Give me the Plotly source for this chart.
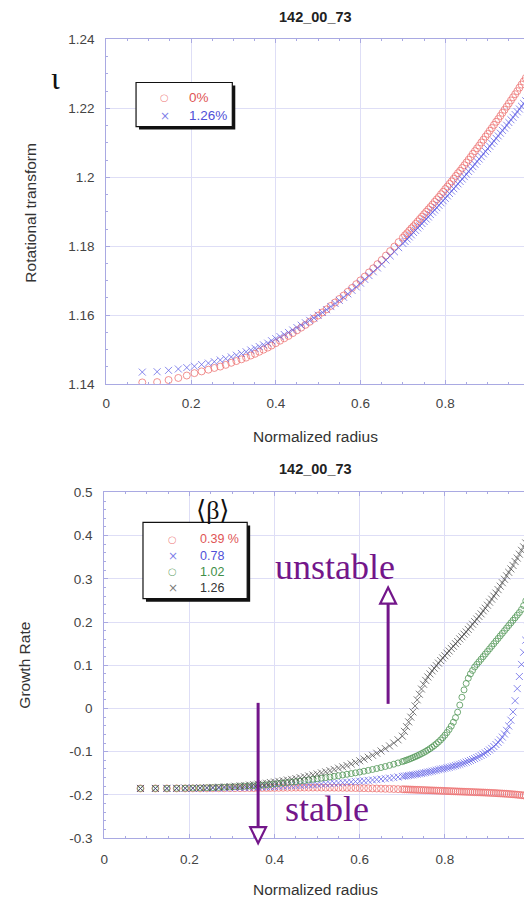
import plotly.graph_objects as go

# ---------------- data ----------------
RADIUS = [0.085, 0.120, 0.147, 0.170, 0.190, 0.208, 0.225, 0.241, 0.255, 0.269,
          0.282, 0.295, 0.307, 0.319, 0.330, 0.341, 0.351, 0.361, 0.371, 0.381,
          0.39, 0.40, 0.41, 0.42, 0.43, 0.44, 0.45, 0.46, 0.47, 0.48, 0.49,
          0.50, 0.51, 0.52, 0.53, 0.54, 0.55, 0.56, 0.57, 0.58, 0.59,
          0.60, 0.61, 0.62, 0.63, 0.64, 0.65, 0.66, 0.67, 0.68, 0.69,
          0.700, 0.705, 0.710, 0.715, 0.720, 0.725, 0.730, 0.735, 0.740, 0.745,
          0.750, 0.755, 0.760, 0.765, 0.770, 0.775, 0.780, 0.785, 0.790, 0.795,
          0.800, 0.805, 0.810, 0.815, 0.820, 0.825, 0.830, 0.835, 0.840, 0.845,
          0.850, 0.855, 0.860, 0.865, 0.870, 0.875, 0.880, 0.885, 0.890, 0.895,
          0.900, 0.905, 0.910, 0.915, 0.920, 0.925, 0.930, 0.935, 0.940, 0.945,
          0.950, 0.955, 0.960, 0.965, 0.970, 0.975, 0.980, 0.985, 0.990, 0.995,
          1.000]

# rotational transform, <beta> = 0 %
IOTA_0 = [1.1405, 1.1406, 1.1412, 1.1418, 1.1425, 1.1432, 1.1437, 1.1442, 1.1447, 1.1451,
          1.1456, 1.1462, 1.1467, 1.1472, 1.1477, 1.1483, 1.1488, 1.1494, 1.1500, 1.1506,
          1.1512, 1.1519, 1.1526, 1.1533, 1.1540, 1.1548, 1.1556, 1.1564, 1.1572, 1.1581, 1.1590,
          1.1599, 1.1608, 1.1617, 1.1627, 1.1637, 1.1647, 1.1657, 1.1668, 1.1679, 1.1690,
          1.1701, 1.1712, 1.1724, 1.1736, 1.1748, 1.1760, 1.1773, 1.1786, 1.1799, 1.1812,
          1.1825, 1.1832, 1.1838, 1.1845, 1.1852, 1.1858, 1.1865, 1.1872, 1.1879, 1.1886,
          1.1893, 1.1900, 1.1907, 1.1914, 1.1921, 1.1929, 1.1936, 1.1943, 1.1951, 1.1958,
          1.1966, 1.1973, 1.1981, 1.1988, 1.1996, 1.2004, 1.2012, 1.2019, 1.2027, 1.2035,
          1.2043, 1.2051, 1.2059, 1.2068, 1.2076, 1.2084, 1.2092, 1.2101, 1.2109, 1.2118,
          1.2126, 1.2135, 1.2143, 1.2152, 1.2161, 1.2169, 1.2178, 1.2187, 1.2196, 1.2205,
          1.2214, 1.2223, 1.2232, 1.2241, 1.2250, 1.2260, 1.2269, 1.2278, 1.2288, 1.2297,
          1.2307]

# rotational transform, <beta> = 1.26 %
IOTA_126 = [1.1435, 1.1436, 1.1440, 1.1444, 1.1448, 1.1452, 1.1457, 1.1461, 1.1465, 1.1470,
            1.1474, 1.1479, 1.1484, 1.1489, 1.1494, 1.1499, 1.1504, 1.1509, 1.1514, 1.1519,
            1.1526, 1.1532, 1.1538, 1.1544, 1.1550, 1.1557, 1.1564, 1.1571, 1.1578, 1.1585, 1.1592,
            1.1600, 1.1608, 1.1616, 1.1625, 1.1634, 1.1643, 1.1652, 1.1662, 1.1672, 1.1682,
            1.1693, 1.1704, 1.1715, 1.1726, 1.1737, 1.1748, 1.1760, 1.1772, 1.1784, 1.1796,
            1.1808, 1.1814, 1.1821, 1.1827, 1.1833, 1.1840, 1.1846, 1.1853, 1.1859, 1.1866,
            1.1872, 1.1879, 1.1885, 1.1892, 1.1899, 1.1905, 1.1912, 1.1919, 1.1926, 1.1932,
            1.1939, 1.1946, 1.1953, 1.1960, 1.1967, 1.1974, 1.1981, 1.1988, 1.1995, 1.2002,
            1.2009, 1.2017, 1.2024, 1.2031, 1.2038, 1.2046, 1.2053, 1.2060, 1.2068, 1.2075,
            1.2083, 1.2090, 1.2098, 1.2105, 1.2113, 1.2120, 1.2128, 1.2136, 1.2143, 1.2151,
            1.2159, 1.2167, 1.2174, 1.2182, 1.2190, 1.2198, 1.2206, 1.2214, 1.2222, 1.2230,
            1.2238]

# growth rate, <beta> = 0.39 %
GROWTH_039 = [-0.1850, -0.1850, -0.1850, -0.1849, -0.1849, -0.1848, -0.1848, -0.1847, -0.1846, -0.1846,
              -0.1845, -0.1844, -0.1843, -0.1843, -0.1842, -0.1841, -0.1841, -0.1840, -0.1839, -0.1839,
              -0.1838, -0.1837, -0.1836, -0.1835, -0.1834, -0.1833, -0.1832, -0.1832, -0.1831, -0.1831, -0.1831,
              -0.1831, -0.1831, -0.1832, -0.1832, -0.1833, -0.1834, -0.1835, -0.1836, -0.1838, -0.1840,
              -0.1842, -0.1844, -0.1846, -0.1848, -0.1851, -0.1854, -0.1857, -0.1860, -0.1863, -0.1866,
              -0.1869, -0.1871, -0.1872, -0.1874, -0.1876, -0.1878, -0.1880, -0.1882, -0.1884, -0.1886,
              -0.1888, -0.1890, -0.1892, -0.1894, -0.1896, -0.1898, -0.1900, -0.1902, -0.1904, -0.1906,
              -0.1908, -0.1910, -0.1912, -0.1914, -0.1916, -0.1918, -0.1920, -0.1922, -0.1924, -0.1926,
              -0.1928, -0.1930, -0.1932, -0.1934, -0.1936, -0.1938, -0.1940, -0.1942, -0.1944, -0.1946,
              -0.1949, -0.1951, -0.1954, -0.1956, -0.1959, -0.1962, -0.1965, -0.1968, -0.1971, -0.1974,
              -0.1978, -0.1982, -0.1986, -0.1990, -0.1995, -0.2000, -0.2005, -0.2011, -0.2018, -0.2026,
              -0.2035]

# growth rate, <beta> = 0.78 %
GROWTH_078 = [-0.1850, -0.1850, -0.1850, -0.1850, -0.1849, -0.1848, -0.1847, -0.1845, -0.1843, -0.1841,
              -0.1839, -0.1837, -0.1834, -0.1831, -0.1828, -0.1825, -0.1822, -0.1819, -0.1815, -0.1812,
              -0.1808, -0.1804, -0.1800, -0.1796, -0.1791, -0.1787, -0.1782, -0.1777, -0.1772, -0.1766, -0.1761,
              -0.1755, -0.1749, -0.1743, -0.1736, -0.1729, -0.1722, -0.1715, -0.1707, -0.1699, -0.1691,
              -0.1682, -0.1673, -0.1664, -0.1654, -0.1644, -0.1633, -0.1622, -0.1610, -0.1598, -0.1585,
              -0.1572, -0.1565, -0.1558, -0.1551, -0.1543, -0.1535, -0.1527, -0.1519, -0.1510, -0.1501,
              -0.1492, -0.1482, -0.1472, -0.1462, -0.1451, -0.1440, -0.1428, -0.1416, -0.1403, -0.1395,
              -0.1385, -0.1373, -0.1361, -0.1348, -0.1335, -0.1321, -0.1307, -0.1292, -0.1276, -0.1259,
              -0.1241, -0.1222, -0.1202, -0.1181, -0.1159, -0.1136, -0.1111, -0.1085, -0.1057, -0.1027,
              -0.0995, -0.0960, -0.0922, -0.0880, -0.0834, -0.0783, -0.0726, -0.0662, -0.0590, -0.0506,
              -0.0405, -0.0270, -0.0080, 0.0180, 0.0460, 0.0740, 0.1020, 0.1300, 0.1580, 0.1880,
              0.2200]

# growth rate, <beta> = 1.02 %
GROWTH_102 = [-0.1850, -0.1850, -0.1849, -0.1847, -0.1845, -0.1842, -0.1839, -0.1835, -0.1831, -0.1827,
              -0.1822, -0.1817, -0.1812, -0.1806, -0.1800, -0.1794, -0.1788, -0.1781, -0.1774, -0.1766,
              -0.1757, -0.1746, -0.1735, -0.1724, -0.1713, -0.1702, -0.1690, -0.1678, -0.1666, -0.1653, -0.1640,
              -0.1627, -0.1613, -0.1599, -0.1585, -0.1570, -0.1555, -0.1539, -0.1523, -0.1506, -0.1489,
              -0.1471, -0.1452, -0.1432, -0.1411, -0.1389, -0.1366, -0.1342, -0.1316, -0.1289, -0.1260,
              -0.1229, -0.1212, -0.1195, -0.1177, -0.1158, -0.1138, -0.1117, -0.1095, -0.1071, -0.1046,
              -0.1020, -0.0992, -0.0962, -0.0930, -0.0895, -0.0858, -0.0818, -0.0775, -0.0728, -0.0676,
              -0.0619, -0.0556, -0.0486, -0.0408, -0.0318, -0.0212, -0.0085, 0.0080, 0.0260, 0.0430,
              0.0580, 0.0700, 0.0800, 0.0880, 0.0960, 0.1020, 0.1080, 0.1140, 0.1200, 0.1260,
              0.1320, 0.1380, 0.1440, 0.1500, 0.1560, 0.1620, 0.1680, 0.1740, 0.1800, 0.1860,
              0.1920, 0.1980, 0.2040, 0.2100, 0.2160, 0.2220, 0.2290, 0.2380, 0.2490, 0.2630,
              0.2810]

# growth rate, <beta> = 1.26 %
GROWTH_126 = [-0.1850, -0.1850, -0.1848, -0.1846, -0.1843, -0.1840, -0.1836, -0.1831, -0.1826, -0.1820,
              -0.1813, -0.1806, -0.1798, -0.1790, -0.1781, -0.1771, -0.1761, -0.1750, -0.1739, -0.1728,
              -0.1712, -0.1700, -0.1685, -0.1670, -0.1655, -0.1640, -0.1620, -0.1600, -0.1580, -0.1560, -0.1538,
              -0.1515, -0.1490, -0.1465, -0.1438, -0.1410, -0.1380, -0.1350, -0.1318, -0.1284, -0.1248,
              -0.1210, -0.1170, -0.1128, -0.1083, -0.1035, -0.0983, -0.0927, -0.0866, -0.0799, -0.0725,
              -0.0640, -0.0530, -0.0420, -0.0310, -0.0200, -0.0080, 0.0060, 0.0200, 0.0330, 0.0450,
              0.0560, 0.0650, 0.0730, 0.0800, 0.0870, 0.0930, 0.0990, 0.1050, 0.1110, 0.1170,
              0.1220, 0.1280, 0.1330, 0.1390, 0.1440, 0.1500, 0.1550, 0.1610, 0.1660, 0.1720,
              0.1770, 0.1830, 0.1890, 0.1950, 0.2010, 0.2070, 0.2130, 0.2190, 0.2260, 0.2320,
              0.2390, 0.2460, 0.2530, 0.2600, 0.2670, 0.2750, 0.2830, 0.2910, 0.2990, 0.3070,
              0.3150, 0.3230, 0.3310, 0.3400, 0.3480, 0.3570, 0.3660, 0.3740, 0.3830, 0.3920,
              0.4010]

X_TICKS = [0, 0.2, 0.4, 0.6, 0.8, 1.0]
X_TICK_TEXT = ["0", "0.2", "0.4", "0.6", "0.8", "1"]
IOTA_TICKS = [1.14, 1.16, 1.18, 1.20, 1.22, 1.24]
IOTA_TICK_TEXT = ["1.14", "1.16", "1.18", "1.2", "1.22", "1.24"]
GR_TICKS = [-0.3, -0.2, -0.1, 0, 0.1, 0.2, 0.3, 0.4, 0.5]
GR_TICK_TEXT = ["-0.3", "-0.2", "-0.1", "0", "0.1", "0.2", "0.3", "0.4", "0.5"]

TOP_LEGEND = ["0%", "1.26%"]
BOTTOM_LEGEND = ["0.39 %", "0.78", "1.02", "1.26"]
TITLE = "142_00_73"

# ---------------- styling ----------------
VIEW_W, VIEW_H = 532, 898
OFF = 8                      # page margin around the plot div
W, H = VIEW_W - OFF, VIEW_H - OFF
YS, YO = 0.981, 7.8          # observed vertical placement of the page in the snapshot
SANS = "Liberation Sans, Arial, Helvetica, sans-serif"
SERIF = "Liberation Serif, Times New Roman, DejaVu Serif, serif"
FRAME = "#a9a9e2"
GRID = "#dedef6"
PURPLE = "#73168a"

C_RED = "rgba(236,110,110,0.75)"
C_BLUE = "rgba(95,95,228,0.75)"
C_GREEN = "rgba(80,150,85,0.8)"
C_GRAY = "rgba(70,70,70,0.7)"


def px(x):
    return (x - OFF) / W


def py(y):
    yc = (y - YO) / YS
    return 1 - (yc - OFF) / H


def marker(symbol, size, color):
    return dict(symbol=symbol, size=size, color=color, line=dict(width=1, color=color))


fig = go.Figure()

fig.add_trace(go.Scatter(x=RADIUS, y=IOTA_0, mode="markers", xaxis="x", yaxis="y",
                         marker=marker("circle-open", 7, C_RED), showlegend=False))
fig.add_trace(go.Scatter(x=RADIUS, y=IOTA_126, mode="markers", xaxis="x", yaxis="y",
                         marker=marker("x-thin-open", 7, C_BLUE), showlegend=False))

fig.add_trace(go.Scatter(x=RADIUS, y=GROWTH_039, mode="markers", xaxis="x2", yaxis="y2",
                         marker=marker("circle-open", 7, C_RED), showlegend=False))
fig.add_trace(go.Scatter(x=RADIUS, y=GROWTH_078, mode="markers", xaxis="x2", yaxis="y2",
                         marker=marker("x-thin-open", 7, C_BLUE), showlegend=False))
fig.add_trace(go.Scatter(x=RADIUS, y=GROWTH_102, mode="markers", xaxis="x2", yaxis="y2",
                         marker=marker("circle-open", 6, C_GREEN), showlegend=False))
fig.add_trace(go.Scatter(x=RADIUS, y=GROWTH_126, mode="markers", xaxis="x2", yaxis="y2",
                         marker=marker("x-thin-open", 7, C_GRAY), showlegend=False))

tickfont = dict(family=SANS, size=13.5, color="#444")


def xaxis(domain, anchor, minor_dtick, standoff):
    return dict(domain=domain, anchor=anchor, range=[0, 1], tickmode="array",
                tickvals=X_TICKS, ticktext=X_TICK_TEXT, showgrid=True, gridcolor=GRID,
                gridwidth=1, showline=True, linecolor=FRAME, linewidth=1, mirror="ticks",
                ticks="inside", ticklen=4, tickcolor=FRAME, zeroline=False,
                tickfont=tickfont, ticklabelstandoff=standoff,
                minor=dict(dtick=minor_dtick, ticks="inside", ticklen=2, tickcolor=FRAME,
                           showgrid=False))


def yaxis(domain, anchor, rng, vals, text, minor_dtick):
    return dict(domain=domain, anchor=anchor, range=rng, tickmode="array",
                tickvals=vals, ticktext=text, showgrid=True, gridcolor=GRID, gridwidth=1,
                showline=True, linecolor=FRAME, linewidth=1, mirror="ticks",
                ticks="inside", ticklen=4, tickcolor=FRAME, zeroline=False,
                tickfont=tickfont, ticklabelstandoff=8,
                minor=dict(dtick=minor_dtick, ticks="inside", ticklen=2, tickcolor=FRAME,
                           showgrid=False))


ann = []


def text(x, y, s, size, color="#222", family=SANS, bold=False, xanchor="center",
         textangle=0):
    ann.append(dict(x=px(x), y=py(y), xref="paper", yref="paper", showarrow=False,
                    text=f"<b>{s}</b>" if bold else s, xanchor=xanchor, yanchor="middle",
                    textangle=textangle, font=dict(family=family, size=size, color=color)))


# titles and axis labels
text(314, 18, TITLE, 14.5, "#222", bold=True)
text(314, 469, TITLE, 14.5, "#222", bold=True)
text(314, 436, "Normalized radius", 15.5, "#333")
text(314, 888, "Normalized radius", 15.5, "#333")
text(27, 213, "Rotational transform", 15.5, "#333", textangle=-90)
text(21, 664, "Growth Rate", 15.5, "#333", textangle=-90)
text(52, 79, "ι", 32, "#111", family=SERIF)
text(211, 510, "⟨β⟩", 26, "#111", family=SERIF)
text(333, 566, "unstable", 36, PURPLE, family=SERIF)
text(325, 808, "stable", 36, PURPLE, family=SERIF)

# legends
shapes = []


def box(x0, y0, x1, y1, off=3):
    shapes.append(dict(type="rect", xref="paper", yref="paper", x0=px(x0 + off), x1=px(x1 + off),
                       y0=py(y0 + off), y1=py(y1 + off), fillcolor="#111", line=dict(width=0)))
    shapes.append(dict(type="rect", xref="paper", yref="paper", x0=px(x0), x1=px(x1),
                       y0=py(y0), y1=py(y1), fillcolor="white", line=dict(width=1.2, color="#111")))


box(133, 83, 230, 127)
text(162, 98, "○", 10, "rgba(236,110,110,0.8)", family="DejaVu Sans")
text(162, 116, "×", 12, "rgba(95,95,228,0.8)", family="DejaVu Sans")
text(184, 98, TOP_LEGEND[0], 13.5, "#e05555", xanchor="left")
text(184, 116, TOP_LEGEND[1], 13.5, "#5050d8", xanchor="left")

box(140, 522, 245, 598)
leg_syms = ["○", "×", "○", "×"]
leg_sym_col = ["rgba(236,110,110,0.8)", "rgba(95,95,228,0.8)", "rgba(80,150,85,0.8)", "rgba(90,90,90,0.8)"]
leg_txt_col = ["#e05555", "#5050d8", "#3f8f48", "#333333"]
rows = [539, 555, 571, 587]
for s, sc, tc, lab, yy in zip(leg_syms, leg_sym_col, leg_txt_col, BOTTOM_LEGEND, rows):
    text(170, yy, s, 10 if s == "○" else 12, sc, family="DejaVu Sans")
    text(195, yy, lab, 12.5, tc, xanchor="left")

# arrows
shapes.append(dict(type="line", xref="paper", yref="paper", x0=px(387), x1=px(387),
                   y0=py(703), y1=py(602), line=dict(color=PURPLE, width=3)))
shapes.append(dict(type="path", xref="paper", yref="paper",
                   path=f"M {px(379)},{py(603)} L {px(395)},{py(603)} L {px(387)},{py(587)} Z",
                   fillcolor="white", line=dict(color=PURPLE, width=2.2)))
shapes.append(dict(type="line", xref="paper", yref="paper", x0=px(256), x1=px(256),
                   y0=py(702), y1=py(826), line=dict(color=PURPLE, width=3)))
shapes.append(dict(type="path", xref="paper", yref="paper",
                   path=f"M {px(248)},{py(826)} L {px(264)},{py(826)} L {px(256)},{py(842)} Z",
                   fillcolor="white", line=dict(color=PURPLE, width=2.2)))

fig.update_layout(
    width=W, height=H, margin=dict(l=0, r=0, t=0, b=0),
    paper_bgcolor="white", plot_bgcolor="white", showlegend=False,
    xaxis=xaxis([px(103), px(530)], "y", 0.05, 7),
    yaxis=yaxis([py(384), py(40)], "x", [1.14, 1.24], IOTA_TICKS, IOTA_TICK_TEXT, 0.005),
    xaxis2=xaxis([px(101), px(530)], "y2", 0.05, 9),
    yaxis2=yaxis([py(837), py(492)], "x2", [-0.3, 0.5], GR_TICKS, GR_TICK_TEXT, 0.02),
    annotations=ann, shapes=shapes,
)

fig.write_html("out.html")
